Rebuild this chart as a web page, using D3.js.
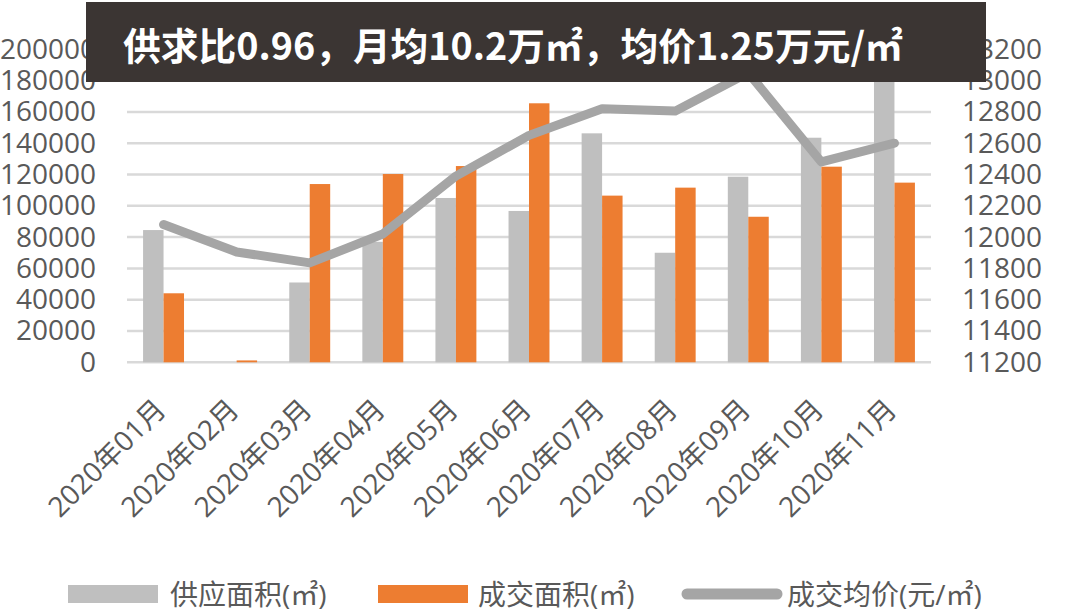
<!DOCTYPE html>
<html>
<head>
<meta charset="utf-8">
<script src="https://cdn.jsdelivr.net/npm/d3@7"></script>
<style>
  body { margin: 0; background: #fff; }
  svg { display: block; }
  .tick text { font-family: "Open Sans", "Noto Sans CJK SC", sans-serif; fill: #595959; }
</style>
</head>
<body>
<div id="chart"></div>
<script>
// data
let months = ["2020年01月","2020年02月","2020年03月","2020年04月","2020年05月","2020年06月",
              "2020年07月","2020年08月","2020年09月","2020年10月","2020年11月"];
let supplyArea = [84500, 0, 51000, 77000, 105000, 96700, 146300, 70000, 118600, 143500, 185000];
let dealArea   = [44100, 1200, 113900, 120300, 125400, 165500, 106500, 111600, 93000, 125000, 114800];
let avgPrice   = [12080, 11905, 11835, 12020, 12390, 12650, 12820, 12805, 13050, 12480, 12600];
let leftTicks  = d3.range(0, 200001, 20000);
let rightTicks = d3.range(11200, 13201, 200);
let seriesNames = ["供应面积(㎡)", "成交面积(㎡)", "成交均价(元/㎡)"];
let titleText = "供求比0.96，月均10.2万㎡，均价1.25万元/㎡";

let width = 1080, height = 613;
let plotLeft = 127, plotRight = 931, plotTop = 49.3, plotBottom = 362.3;

let svg = d3.select("#chart").append("svg").attr("width", width).attr("height", height);

let x0 = d3.scaleBand().domain(months).range([plotLeft, plotRight]).paddingInner(0.44).paddingOuter(0.22);
let x1 = d3.scaleBand().domain(["supply", "deal"]).range([0, x0.bandwidth()]);
let yL = d3.scaleLinear().domain([0, 200000]).range([plotBottom, plotTop]);
let yR = d3.scaleLinear().domain([11200, 13200]).range([plotBottom, plotTop]);

// gridlines
svg.append("g").selectAll("line").data(leftTicks).enter().append("line")
  .attr("x1", plotLeft).attr("x2", plotRight)
  .attr("y1", d => yL(d)).attr("y2", d => yL(d))
  .attr("stroke", "#d9d9d9").attr("stroke-width", 2.5);

// left axis
let axL = svg.append("g").attr("transform", "translate(96,0)")
  .call(d3.axisLeft(yL).tickValues(leftTicks).tickSize(0).tickPadding(0).tickFormat(d3.format("d")));
axL.select(".domain").remove();
axL.selectAll("text").style("font-size", "28px");

// right axis
let axR = svg.append("g").attr("transform", "translate(962,0)")
  .call(d3.axisRight(yR).tickValues(rightTicks).tickSize(0).tickPadding(0).tickFormat(d3.format("d")));
axR.select(".domain").remove();
axR.selectAll("text").style("font-size", "28px");

// bottom axis with slanted labels
let axB = svg.append("g").attr("transform", "translate(0," + plotBottom + ")")
  .call(d3.axisBottom(x0).tickSize(0).tickPadding(0));
axB.select(".domain").remove();
axB.selectAll("text")
  .style("font-size", "28px")
  .attr("text-anchor", "end")
  .attr("x", 0).attr("y", 0).attr("dy", "0.35em")
  .attr("transform", "translate(-3,42) rotate(-45)");

// bars
let groups = svg.append("g").selectAll("g").data(months).enter().append("g")
  .attr("transform", d => "translate(" + x0(d) + ",0)");

groups.append("rect")
  .attr("x", x1("supply")).attr("width", x1.bandwidth())
  .attr("y", (d, i) => yL(supplyArea[i]))
  .attr("height", (d, i) => plotBottom - yL(supplyArea[i]))
  .attr("fill", "#bfbfbf");

groups.append("rect")
  .attr("x", x1("deal")).attr("width", x1.bandwidth())
  .attr("y", (d, i) => yL(dealArea[i]))
  .attr("height", (d, i) => plotBottom - yL(dealArea[i]))
  .attr("fill", "#ed7d31");

// price line
let priceLine = d3.line()
  .x((d, i) => x0(months[i]) + x0.bandwidth() / 2)
  .y(d => yR(d));

svg.append("path").datum(avgPrice)
  .attr("d", priceLine)
  .attr("fill", "none")
  .attr("stroke", "#a5a5a5")
  .attr("stroke-width", 9)
  .attr("stroke-linecap", "round")
  .attr("stroke-linejoin", "round");

// title box on top
svg.append("rect").attr("x", 86).attr("y", 2).attr("width", 900).attr("height", 80).attr("fill", "#3b3533");
let title = svg.append("text")
  .attr("x", 123).attr("y", 43)
  .attr("dominant-baseline", "central")
  .style("font-family", "'Noto Sans CJK SC', sans-serif")
  .style("font-weight", 700)
  .style("font-size", "38px")
  .attr("fill", "#ffffff")
  .text(titleText);
let tw = title.node().getComputedTextLength();
title.style("font-size", (38 * 780 / tw) + "px");

// legend
let legend = svg.append("g").attr("transform", "translate(0,594)");
let legX = [68, 378, 682];
let legTextX = [170, 478, 787];
legend.append("rect").attr("x", legX[0]).attr("y", -9).attr("width", 90).attr("height", 18).attr("fill", "#bfbfbf");
legend.append("rect").attr("x", legX[1]).attr("y", -9).attr("width", 90).attr("height", 18).attr("fill", "#ed7d31");
legend.append("line").attr("x1", legX[2] + 5).attr("x2", legX[2] + 95).attr("y1", 0).attr("y2", 0)
  .attr("stroke", "#a5a5a5").attr("stroke-width", 11).attr("stroke-linecap", "round");
legend.selectAll(".legtext").data(seriesNames).enter().append("text")
  .attr("class", "legtext")
  .attr("x", (d, i) => legTextX[i]).attr("y", 0)
  .attr("dominant-baseline", "central")
  .style("font-family", "'Open Sans', 'Noto Sans CJK SC', sans-serif")
  .style("font-size", "28px")
  .attr("fill", "#595959")
  .text(d => d);
</script>
</body>
</html>
